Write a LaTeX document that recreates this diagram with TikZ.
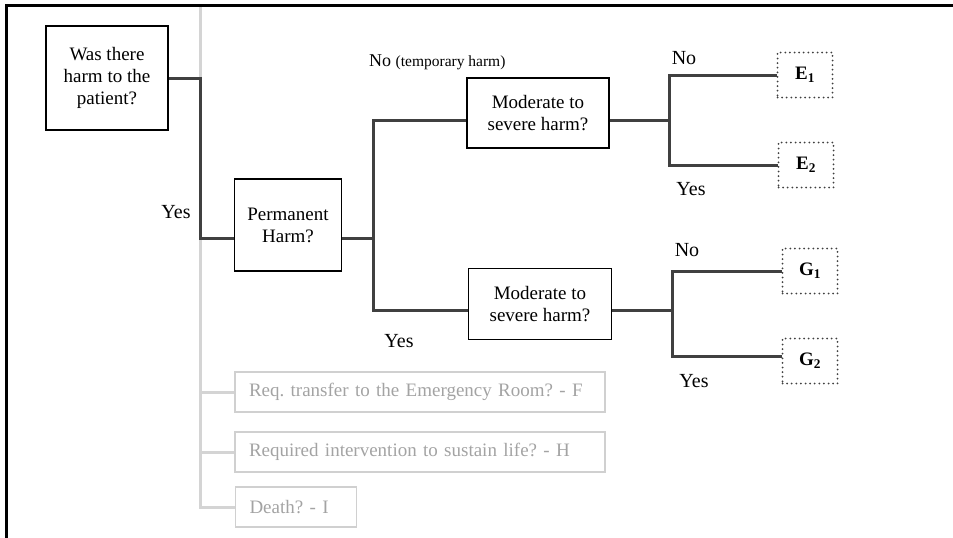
\documentclass[tikz,border=0pt]{standalone}
\usepackage{fontspec}
\setmainfont{Liberation Serif}
\usepackage{tikz}
\usepackage{xcolor}
\frenchspacing

\definecolor{connGray}{HTML}{404040}
\definecolor{paleLine}{HTML}{D4D4D4}
\definecolor{paleText}{HTML}{A3A3A3}
\definecolor{paleBorder}{HTML}{D0D0D0}

\begin{document}
\begin{tikzpicture}[x=1pt,y=-1pt,
  every node/.style={font=\fontsize{19}{22}\selectfont},
  qbox/.style={draw=black,line width=1.8pt,align=center,inner sep=0pt},
  leaf/.style={draw=black!75,line width=2pt,line cap=round,dash pattern=on 0pt off 4.6pt,
    inner sep=0pt,minimum width=55pt,minimum height=45pt,font=\fontsize{19}{22}\selectfont\bfseries},
  fadebox/.style={draw=paleBorder,line width=1.2pt,text=paleText,align=left,
    inner xsep=14pt,inner ysep=0pt,minimum height=40pt},
  conn/.style={draw=connGray,line width=3pt},
  fadeline/.style={draw=paleLine,line width=3pt},
  lbl/.style={inner sep=0pt,font=\fontsize{20}{22}\selectfont}]
\useasboundingbox (0,0) rectangle (953,538);

% question boxes
\node[qbox,minimum width=122pt,minimum height=104pt] (harm) at (107,78) {Was there\\harm to the\\patient?};
\node[qbox,minimum width=107pt,minimum height=92pt] (perm) at (288,225) {Permanent\\Harm?};
\node[qbox,minimum width=142pt,minimum height=70pt] (modA) at (538,113) {Moderate to\\severe harm?};
\node[qbox,minimum width=143pt,minimum height=71pt] (modB) at (540,304) {Moderate to\\severe harm?};

% outcomes
\node[leaf] (e1) at (805,75) {E\textsubscript{1}};
\node[leaf] (e2) at (806,165) {E\textsubscript{2}};
\node[leaf] (g1) at (810,271) {G\textsubscript{1}};
\node[leaf] (g2) at (810,361) {G\textsubscript{2}};

% faded questions
\node[fadebox,text width=342pt] (xfer) at (420,392) {Req. transfer to the Emergency Room? - F};
\node[fadebox,text width=342pt] (life) at (420,452) {Required intervention to sustain life? - H};
\node[fadebox,text width=93pt] (death) at (296,507) {Death? - I};

\coordinate (gtop) at (200,6);
\coordinate (f2) at (373,238);
\coordinate (f3) at (669,120);
\coordinate (f4) at (672,310);

% faded branch
\draw[fadeline] (gtop) |- (death.west);
\draw[fadeline] (xfer.west -| gtop) -- (xfer.west);
\draw[fadeline] (life.west -| gtop) -- (life.west);

% tree
\draw[conn] (harm.east) -- (harm.east -| gtop) |- ([yshift=-13pt]perm.west);
\draw[conn] ([yshift=-13pt]perm.east) -- (f2);
\draw[conn] ([yshift=-7pt]modA.west) -| (f2) |- ([yshift=-6pt]modB.west);
\draw[conn] ([yshift=-7pt]modA.east) -- (f3);
\draw[conn] (e1.west) -| (f3) |- (e2.west);
\draw[conn] ([yshift=-6pt]modB.east) -- (f4);
\draw[conn] (g1.west) -| (f4) |- ([yshift=5pt]g2.west);

% labels
\node[lbl] (yesA) at (176,212) {Yes};
\node[lbl,anchor=base west] (noB) at (369,66) {\fontsize{18}{20}\selectfont No {\fontsize{15.5}{17}\selectfont(temporary harm)}};
\node[lbl] (yesB) at (399,341) {Yes};
\node[lbl] (noC) at (684,58) {No};
\node[lbl] (yesC) at (691,189) {Yes};
\node[lbl] (noD) at (687,250) {No};
\node[lbl] (yesD) at (694,381) {Yes};

% frame
\draw[line width=3pt] (953,5) -- (6,5) -- (6,538);
\end{tikzpicture}
\end{document}
